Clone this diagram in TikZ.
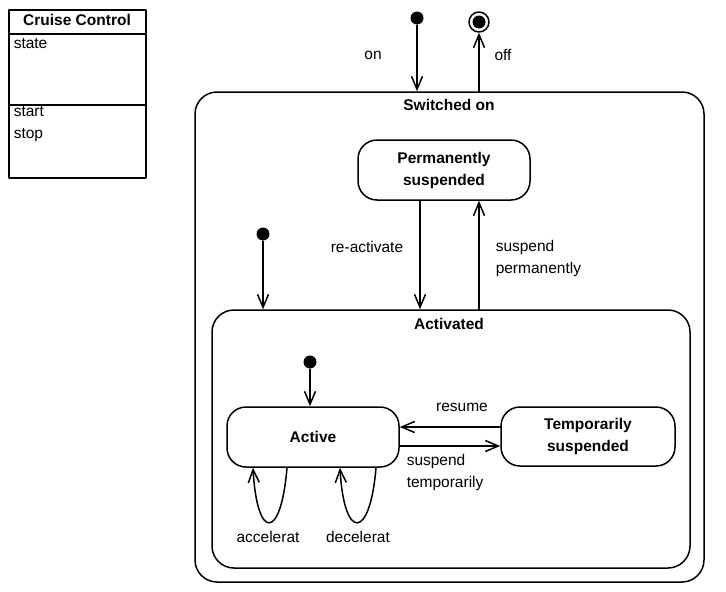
\documentclass[tikz,border=0pt]{standalone}
\usepackage{fontspec}
\setmainfont{Liberation Sans}
\usetikzlibrary{arrows.meta}
\begin{document}
\begin{tikzpicture}[x=1pt,y=-1pt,>={Straight Barb[length=13pt,width=11pt]},
	font=\fontsize{15.5}{22}\selectfont, line width=1.5pt, line join=round, line cap=round,
	state/.style={draw,rounded corners=19pt,align=center,inner sep=0pt,font=\fontsize{15.5}{22}\selectfont\bfseries},
	box/.style={draw,rounded corners=22pt,inner sep=0pt},
	init/.style={circle,fill,inner sep=0pt,minimum size=13pt},
	lbl/.style={inner sep=1pt,align=left}]
	\useasboundingbox (0,0) rectangle (726,592);
	% Klasse
	\draw (9,10) rectangle (146,178);
	\draw (9,34)--(146,34);
	\draw (9,105)--(146,105);
	\node[lbl,font=\fontsize{15.5}{22}\selectfont\bfseries] (cname) at (77,20) {Cruise Control};
	\node[lbl,anchor=west] (cstate) at (12,44) {state};
	\node[lbl,anchor=west] (cstart) at (12,112) {start};
	\node[lbl,anchor=west] (cstop) at (12,135) {stop};
	% Zustaende
	\node[box,minimum width=509pt,minimum height=490pt] (on) at (449.5,337) {};
	\node[lbl,font=\fontsize{15.5}{22}\selectfont\bfseries] (onname) at (449,105) {Switched on};
	\node[box,minimum width=478pt,minimum height=258pt] (activ) at (451,439) {};
	\node[lbl,font=\fontsize{15.5}{22}\selectfont\bfseries] (activname) at (449,324) {Activated};
	\node[state,minimum width=172pt,minimum height=60pt] (perm) at (444,170) {Permanently\\suspended};
	\node[state,minimum width=172pt,minimum height=60pt] (act) at (313,437) {Active};
	\node[state,minimum width=174pt,minimum height=59pt] (temp) at (588,436.5) {Temporarily\\suspended};
	\node[init] (i1) at (417,18) {};
	\node[init] (i2) at (263,234) {};
	\node[init] (i3) at (310,362) {};
	\node[circle,draw,minimum size=20pt,inner sep=0pt] (fin) at (479,22) {};
	\fill (fin) circle (6.5);
	% Uebergaenge
	\draw[->] (i1)--(i1 |- on.north);
	\node[lbl] (lon) at (373,55) {on};
	\draw[->] (on.north -| fin)--(fin);
	\node[lbl] (loff) at (503,55) {off};
	\draw[->] ([xshift=-24pt]perm.south)--([xshift=-24pt]perm.south |- activ.north);
	\node[lbl] (lreact) at (367,247) {re-activate};
	\draw[->] ([xshift=35pt]perm.south |- activ.north)--([xshift=35pt]perm.south);
	\node[lbl,anchor=west] (lperm) at (494,258.5) {suspend\\permanently};
	\draw[->] (i2)--(i2 |- activ.north);
	\draw[->] (i3)--(i3 |- act.north);
	\draw[->] ([yshift=9.5pt]temp.west)--([yshift=9.5pt]temp.west -| act.east);
	\node[lbl] (lres) at (462,407) {resume};
	\draw[->] ([yshift=-9pt]act.east)--([yshift=-9pt]act.east -| temp.west);
	\node[lbl,anchor=west] (ltemp) at (405,472.5) {suspend\\temporarily};
	\draw[->] ([xshift=-26pt]act.south) .. controls +(-6,73) and +(4,73) .. ([xshift=-60pt]act.south);
	\node[lbl] (lacc) at (268,537) {accelerat};
	\draw[->] ([xshift=63pt]act.south) .. controls +(-6,73) and +(4,73) .. ([xshift=27pt]act.south);
	\node[lbl] (ldec) at (358,537) {decelerat};
\end{tikzpicture}
\end{document}
